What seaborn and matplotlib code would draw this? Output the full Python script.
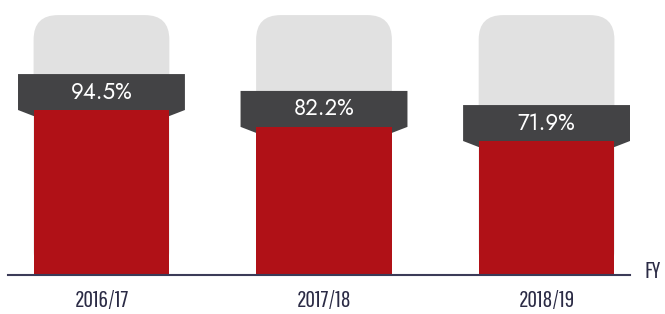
import matplotlib
matplotlib.use("Agg")
import matplotlib.pyplot as plt
from matplotlib.patches import FancyBboxPatch, Polygon
import seaborn as sns

# ---- data ----
years = ["2016/17", "2017/18", "2018/19"]
values = [94.5, 82.2, 71.9]
labels = ["94.5%", "82.2%", "71.9%"]
axis_label = "FY"

# ---- style ----
RED = "#b01117"
DARK = "#434345"
GREY = "#e1e1e1"
NAVY = "#3b3b58"
TICK = "#2b2b45"

sns.set_style("white")
plt.rcParams["font.family"] = ["Jost", "DejaVu Sans"]
COND = ["Pathway Gothic One", "DejaVu Sans"]

BASE = -25.8      # axis floor (chart not zero based)
TOP = 174.7
GREY_TOP = 163.7
BAR_W = 0.61
BOX_HALF = 0.375
BOX_H = 26.2
TAPER = 4.4

fig = plt.figure(figsize=(6.65, 3.14), dpi=100)
ax = fig.add_axes([8 / 665, 39 / 314, 622 / 665, 275 / 314])

sns.barplot(x=years, y=values, color=RED, saturation=1, width=BAR_W, ax=ax)

ax.set_xlim(-0.42, 2.375)
ax.set_ylim(BASE, TOP)

for i, (p, v) in enumerate(zip(ax.patches, values)):
    p.set_y(BASE)
    p.set_height(v - BASE)
    p.set_zorder(3)
    p.set_linewidth(0)
    x0 = p.get_x()
    w = p.get_width()
    cx = x0 + w / 2
    # grey rounded background
    g = FancyBboxPatch((x0, BASE), w, GREY_TOP - BASE,
                       boxstyle="round,pad=0,rounding_size=0.11",
                       mutation_aspect=162.2, facecolor=GREY,
                       edgecolor="none", zorder=1)
    ax.add_patch(g)
    # dark label box with tapered bottom
    poly = Polygon([(cx - BOX_HALF, v + BOX_H), (cx + BOX_HALF, v + BOX_H),
                    (cx + BOX_HALF, v), (cx + w / 2, v - TAPER),
                    (cx - w / 2, v - TAPER), (cx - BOX_HALF, v)],
                   closed=True, facecolor=DARK, edgecolor="none", zorder=2)
    ax.add_patch(poly)
    ax.text(cx, v + BOX_H / 2, labels[i], color="white", ha="center",
            va="center", fontsize=16, zorder=5)

for s in ["top", "left", "right"]:
    ax.spines[s].set_visible(False)
ax.spines["bottom"].set_color(NAVY)
ax.spines["bottom"].set_linewidth(1.5)
ax.spines["bottom"].set_zorder(6)
ax.set_yticks([])
ax.set_xlabel("")
ax.set_ylabel("")
ax.tick_params(axis="x", length=0, pad=11, labelsize=17, labelcolor=TICK)
for t in ax.get_xticklabels():
    t.set_family(COND)

fig.text(644 / 665, (314 - 272) / 314, axis_label, ha="left", va="center",
         fontsize=17, color=TICK, family=COND)

fig.savefig("out.png", dpi=100)
